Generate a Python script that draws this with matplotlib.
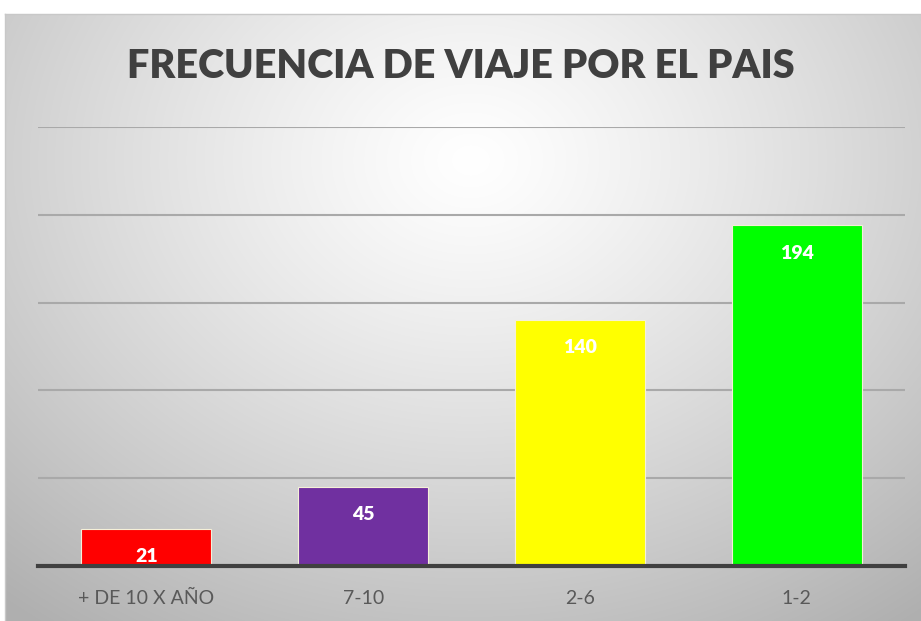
import matplotlib.pyplot as plt
import numpy as np

categorias = ["+ DE 10 X AÑO", "7-10", "2-6", "1-2"]
valores = [21, 45, 140, 194]
colores = ["#FF0000", "#7030A0", "#FFFF00", "#00FF00"]
titulo = "FRECUENCIA DE VIAJE POR EL PAIS"

plt.rcParams['font.family'] = ['Lato', 'DejaVu Sans']

W, H = 921, 621
fig = plt.figure(figsize=(W / 100, H / 100), dpi=100)

# fondo con degradado radial (blanco al centro, gris en los bordes)
bg = fig.add_axes([0, 0, 1, 1])
yy, xx = np.mgrid[0:H, 0:W]
cx, cy = 470, 160
d = np.sqrt(((xx - cx) / 600.0) ** 2 + ((yy - cy) / 480.0) ** 2)
g = 1.0 - 0.25 * np.clip(d, 0, 1.2) ** 1.2
img = np.dstack([g, g, g])
img[:14, :, :] = 1.0
img[:, :5, :] = 1.0
bg.imshow(img, extent=[0, W, H, 0], aspect='auto')
bg.plot([5, W], [14, 14], color="#c8c8c8", lw=1)
bg.plot([5, 5], [14, H], color="#c8c8c8", lw=1)
bg.set_xlim(0, W)
bg.set_ylim(H, 0)
bg.axis('off')

ax = fig.add_axes([38 / W, 55 / H, 867 / W, (566 - 127) / H])
ax.patch.set_alpha(0)
x = np.arange(len(categorias))
bars = ax.bar(x, valores, width=0.6, color=colores, edgecolor="#f5f0d8", linewidth=0.8, zorder=3)
ax.set_xlim(-0.5, 3.5)
ax.set_ylim(0, 250)
ax.set_yticks([50, 100, 150, 200, 250])
ax.yaxis.grid(True, color="#a9a9a9", linewidth=1.5, zorder=0)
ax.tick_params(axis='y', left=False, labelleft=False)
ax.tick_params(axis='x', bottom=False, labelsize=14, labelcolor="#595959", pad=14)
ax.set_xticks(x)
ax.set_xticklabels(categorias)
for s in ['top', 'right', 'left']:
    ax.spines[s].set_visible(False)
ax.spines['bottom'].set_color("#404040")
ax.spines['bottom'].set_linewidth(3)
ax.spines['bottom'].set_zorder(4)

for b, v in zip(bars, valores):
    ax.annotate(str(v), (b.get_x() + b.get_width() / 2, v), xytext=(0, -20),
                textcoords='offset points', ha='center', va='center',
                color='white', fontsize=14, fontweight='heavy', zorder=5)

fig.text(0.5, 1 - 67 / H, titulo, ha='center', va='center', fontsize=28.5,
         fontweight='heavy', color="#404040")

fig.savefig("out.png", dpi=100)
